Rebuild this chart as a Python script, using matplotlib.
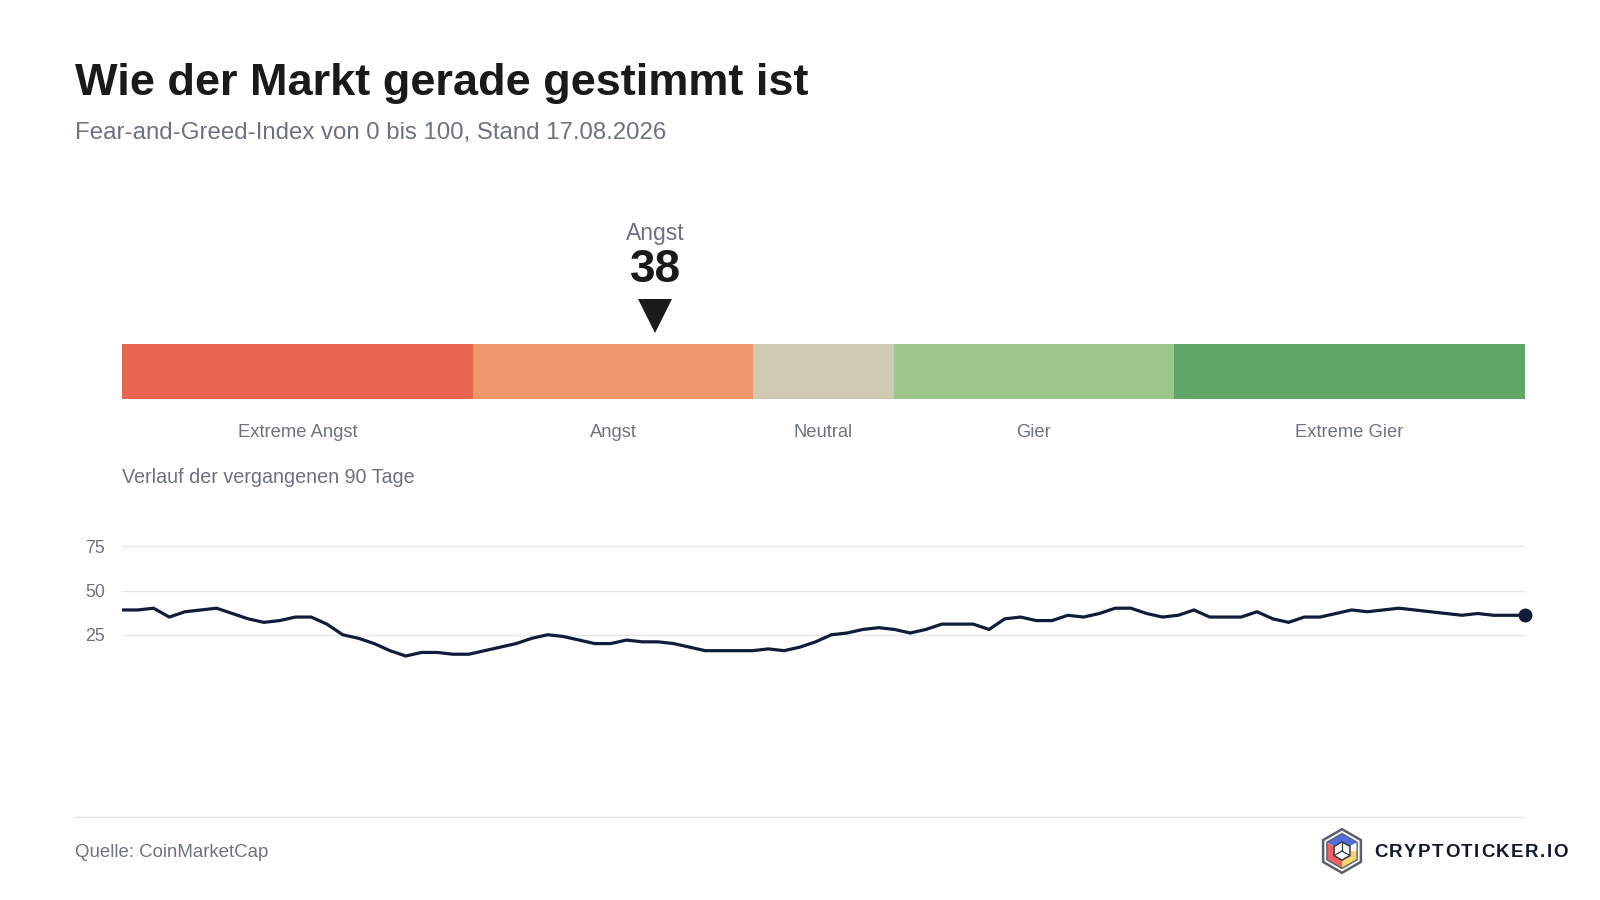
import matplotlib
matplotlib.use('Agg')
import matplotlib.pyplot as plt
from matplotlib.patches import Polygon
import numpy as np

plt.rcParams['font.family'] = ['Liberation Sans', 'DejaVu Sans']

# data
# ----

current_value = 38
current_label = 'Angst'
zone_labels = ['Extreme Angst', 'Angst', 'Neutral', 'Gier', 'Extreme Gier']
zone_edges = [0, 25, 45, 55, 75, 100]
history = [39, 39, 40, 35, 38, 39, 40, 37, 34, 32, 33, 35, 35, 31, 25, 23,
           20, 16, 13, 15, 15, 14, 14,
           16, 18, 20, 23, 25, 24, 22, 20, 20, 22, 21, 21, 20, 18, 16, 16,
           16, 16, 17, 16, 18, 21, 25,
           26, 28, 29, 28, 26, 28, 31, 31, 31, 28, 34, 35, 33, 33, 36, 35,
           37, 40, 40, 37, 35, 36,
           39, 35, 35, 35, 38, 34, 32, 35, 35, 37, 39, 38, 39, 40, 39, 38,
           37, 36, 37, 36, 36, 36]
yticks = [25, 50, 75]

# styles
zone_colors = ['#e8664f', '#ef986d', '#d0c9b4', '#9dc78a', '#5fa667']
dark = '#1a1a1a'
grey = '#6b7280'
navy = '#0f1d3a'
gridc = '#e5e7eb'

# figure in pixel units
W, H = 1600, 900
fig = plt.figure(figsize=(W/100, H/100), dpi=100)
fig.patch.set_facecolor('white')


def px(x, y):
    return x/W, 1 - y/H


def add_axes_px(x0, y0, x1, y1):
    return fig.add_axes([x0/W, 1 - y1/H, (x1 - x0)/W, (y1 - y0)/H])


# header
fig.text(*px(75, 95), 'Wie der Markt gerade gestimmt ist', fontsize=32.5,
         fontweight='bold', color=dark, va='baseline')
fig.text(*px(75, 139), 'Fear-and-Greed-Index von 0 bis 100, Stand 17.08.2026',
         fontsize=17.3, color=grey, va='baseline')

# Gauge
# -----

x0, x1 = 122, 1525
gax = add_axes_px(x0, 200, x1, 460)
gax.set_xlim(0, 100)
gax.set_ylim(460, 200)
gax.axis('off')

lefts = zone_edges[:-1]
widths = np.diff(zone_edges)
gax.bar(lefts, [55]*len(lefts), width=widths, bottom=344, align='edge',
        color=zone_colors, linewidth=0)
centers = [l + w/2 for l, w in zip(lefts, widths)]
for c, lab in zip(centers, zone_labels):
    gax.text(c, 437, lab, ha='center', va='baseline', fontsize=13.2,
             color=grey)

gax.plot([current_value], [316], marker='v', markersize=25, color=dark,
         markeredgewidth=0)
gax.text(current_value, 282, str(current_value), ha='center', va='baseline',
         fontsize=33, fontweight='bold', color=dark)
gax.text(current_value, 240, current_label, ha='center', va='baseline',
         fontsize=16.5, color=grey)

fig.text(*px(122, 483), 'Verlauf der vergangenen 90 Tage', fontsize=14.2,
         color=grey, va='baseline')

# History line
# ------------

lax = add_axes_px(x0, 502, x1, 679)
days = np.arange(len(history))
lax.plot(days, history, color=navy, lw=2.3, solid_joinstyle='miter',
         solid_capstyle='butt')
lax.plot(days[-1:], history[-1:], 'o', color=navy, markersize=9,
         clip_on=False)
lax.set_xlim(0, len(history) - 1)
lax.set_ylim(0, 100)
lax.set_yticks(yticks)
lax.set_xticks([])
lax.tick_params(axis='y', length=0, pad=12, labelsize=12.8, labelcolor=grey)
lax.grid(axis='y', color=gridc, lw=1)
lax.set_axisbelow(True)
for s in lax.spines.values():
    s.set_visible(False)

# Footer
# ------

sep = add_axes_px(74, 812, x1, 822)
sep.axhline(0.5, color=gridc, lw=1)
sep.set_xlim(0, 1)
sep.set_ylim(0, 1)
sep.axis('off')

fig.text(*px(75, 857), 'Quelle: CoinMarketCap', fontsize=13.4, color=grey,
         va='baseline')

# logo icon
iax = add_axes_px(1318, 827, 1366, 875)
iax.set_xlim(-1.1, 1.1)
iax.set_ylim(-1.1, 1.1)
iax.set_aspect('equal')
iax.axis('off')
ang = np.deg2rad(90 + 60*np.arange(6))
hexo = np.c_[np.cos(ang), np.sin(ang)]
iax.add_patch(Polygon(hexo*1.0, closed=True, fc='white', ec='#5a606b', lw=1.8))
r = 0.8
hx = hexo*r
c0 = np.array([0, 0])
# top, upper-left, lower-left, bottom, lower-right, upper-right
top, ul, ll, bot, lr, ur = hx
iax.add_patch(Polygon([c0, ur, top, ul], fc='#4f6fdc', ec='none'))
iax.add_patch(Polygon([c0, ul, ll, bot], fc='#f06262', ec='none'))
iax.add_patch(Polygon([c0, bot, lr, ur], fc='#f7d66e', ec='none'))
iax.add_patch(Polygon([c0, ur, (ur + lr)/2], fc='white', ec='none'))
iax.add_patch(Polygon(hx, closed=True, fc='none', ec='#5a606b', lw=1.0))
s = 0.42
sh = hexo*s
iax.add_patch(Polygon(sh, closed=True, fc='white', ec='#333a44', lw=1.1))
for k in (0, 2, 4):
    iax.plot([0, sh[k][0]], [0, sh[k][1]], color='#333a44', lw=0.9)

# logo text with letter spacing
renderer = fig.canvas.get_renderer()
xpos = 1374
for ch in 'CRYPTOTICKER.IO':
    t = fig.text(*px(xpos, 857), ch, fontsize=13.5, fontweight='bold',
                 color='#121a2e', va='baseline')
    bb = t.get_window_extent(renderer)
    xpos += bb.width + 1.5

fig.savefig('out.png', dpi=100, facecolor='white')
